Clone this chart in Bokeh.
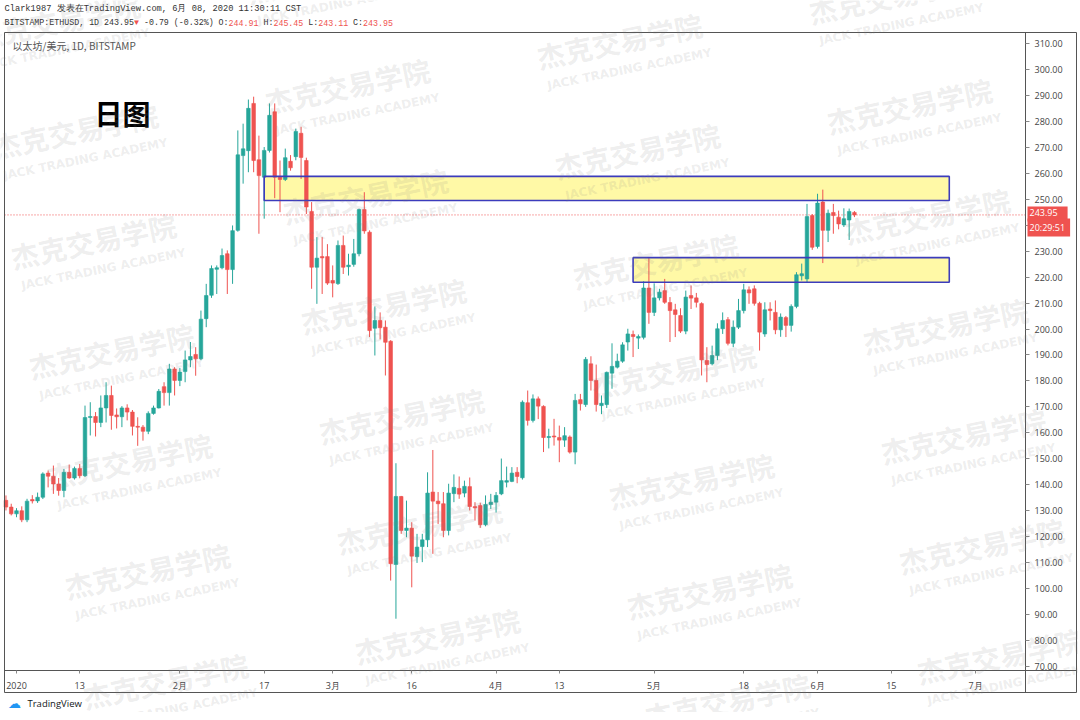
import math
import pandas as pd
from bokeh.plotting import figure
from bokeh.models import (Range1d, FixedTicker, NumeralTickFormatter, Label, ColumnDataSource,
                          LinearAxis)
from bokeh.embed import file_html
from bokeh.resources import INLINE

# ---------------- data ----------------
start_date = "2019-12-30"
opens = [134.0, 131.4,
         128.8, 130.0, 126.5, 134.3, 133.8, 135.2, 144.5, 143.3, 140.3, 137.8, 144.8, 142.6, 146.3, 143.5,
         165.9, 166.3, 164.0, 169.6, 174.4, 166.9, 166.2, 169.6, 168.0, 162.5, 162.2, 160.6, 167.5, 169.6,
         177.8, 175.5, 184.6,
         180.2, 183.6, 188.1, 190.2, 188.5, 204.0, 213.0, 223.0, 223.6, 229.0, 222.9, 238.0, 266.8, 268.7,
         286.9, 265.2, 258.5, 268.8, 283.7, 258.5, 257.6, 264.6, 266.4, 275.4, 264.9, 245.3, 223.8, 227.9,
         227.9,
         218.7, 217.5, 232.2, 224.0, 224.9, 229.0, 246.0, 237.3, 200.3, 203.3, 200.7, 195.3, 109.3, 135.5,
         122.4, 123.3, 112.3, 116.2, 118.8, 137.2, 133.7, 132.7, 122.4, 136.6, 138.6, 136.8, 139.3, 131.6,
         132.0, 124.6, 132.4,
         133.3, 136.5, 141.0, 141.3, 144.8, 142.7, 171.6, 164.8, 173.1, 170.2, 158.2, 158.8, 158.2, 157.2,
         158.4, 152.6, 172.8, 170.9, 186.6, 180.2, 170.5, 170.9, 183.0, 185.3, 187.6, 195.0, 197.9, 196.5,
         196.8, 215.8,
         206.4, 212.0, 214.8, 210.2, 207.4, 205.2, 199.2, 212.9, 212.0, 209.8, 187.9, 186.6, 189.8, 200.1,
         203.6, 194.5, 200.7, 207.1, 215.1, 215.5, 209.9, 198.1, 207.7, 206.4, 199.7, 204.4, 201.4, 208.7,
         220.5, 219.3, 243.7,
         231.8, 248.9, 238.0, 244.9, 243.1, 240.1, 242.0, 244.91]
highs = [135.9, 132.7,
         131.0, 131.7, 134.6, 136.0, 137.0, 144.8, 145.5, 147.4, 142.6, 146.1, 147.8, 147.0, 148.0, 170.5,
         171.8, 168.0, 174.4, 179.5, 178.2, 169.4, 170.3, 171.0, 168.8, 166.0, 163.0, 168.3, 170.5, 176.9,
         179.5, 186.6, 185.3,
         185.0, 191.7, 195.0, 193.0, 207.1, 217.4, 224.5, 224.5, 231.0, 230.3, 239.9, 276.5, 279.1, 288.4,
         289.5, 274.5, 270.1, 286.9, 286.9, 264.9, 269.5, 267.0, 277.2, 277.9, 266.0, 248.9, 235.4, 235.4,
         232.7,
         224.5, 234.1, 236.0, 229.0, 234.7, 246.4, 252.7, 238.0, 208.7, 206.4, 203.3, 195.7, 148.3, 135.7,
         133.9, 125.6, 121.1, 121.1, 144.8, 153.4, 137.2, 137.2, 140.4, 144.0, 143.2, 141.6, 142.8, 133.3,
         133.1, 135.9, 136.5,
         137.2, 150.1, 147.0, 146.8, 146.8, 172.5, 176.3, 174.8, 174.0, 170.6, 161.6, 165.4, 162.8, 162.2,
         159.0, 175.0, 175.0, 189.2, 189.5, 186.3, 174.4, 183.6, 194.5, 190.5, 194.9, 200.1, 199.4, 197.9,
         218.4, 227.7,
         217.6, 215.5, 219.3, 212.3, 209.7, 208.0, 214.8, 216.8, 213.9, 210.3, 193.0, 193.6, 202.2, 206.4,
         204.6, 203.3, 211.6, 217.4, 216.4, 216.8, 210.5, 210.3, 210.3, 211.0, 206.0, 205.0, 209.5, 221.9,
         225.2, 248.2, 244.3,
         252.1, 253.7, 246.0, 248.2, 245.6, 246.5, 246.4, 245.45]
lows = [130.1, 128.2,
        127.5, 125.6, 125.6, 132.8, 133.0, 134.5, 139.0, 136.5, 135.8, 135.2, 142.3, 142.0, 142.5, 143.0,
        159.0, 158.6, 162.2, 164.0, 161.2, 161.7, 162.2, 164.8, 159.0, 155.0, 157.0, 159.5, 167.0, 169.4,
        170.5, 170.5, 174.4,
        178.0, 179.5, 185.3, 182.0, 188.0, 200.7, 212.0, 213.5, 223.0, 213.5, 217.4, 237.5, 256.0, 260.4,
        260.4, 236.7, 242.5, 268.0, 250.4, 245.0, 257.0, 261.0, 265.0, 257.8, 244.3, 215.5, 209.7, 213.5,
        217.0,
        212.2, 217.0, 221.2, 220.6, 224.0, 228.0, 236.7, 196.9, 189.8, 196.0, 182.1, 103.1, 88.4, 121.1,
        119.8, 100.5, 109.9, 110.2, 116.0, 113.4, 124.9, 119.8, 120.5, 133.3, 134.6, 135.2, 130.1, 126.2,
        123.4, 124.0, 130.7,
        129.3, 136.0, 139.0, 141.0, 140.6, 142.0, 162.8, 164.0, 165.3, 152.6, 154.0, 155.1, 148.7, 154.6,
        152.0, 147.9, 168.6, 170.0, 176.3, 168.2, 167.2, 169.6, 177.0, 184.8, 187.0, 191.7, 189.2, 192.3,
        196.0, 202.0,
        205.0, 211.0, 209.7, 195.0, 196.9, 198.5, 198.0, 207.7, 208.3, 182.1, 179.5, 186.0, 188.0, 198.1,
        193.7, 193.0, 200.0, 206.0, 209.7, 209.0, 191.7, 197.0, 203.3, 198.0, 197.0, 196.9, 199.0, 208.0,
        218.7, 218.0, 230.5,
        231.0, 225.4, 233.5, 236.7, 238.4, 239.3, 234.3, 243.11]
closes = [131.4, 128.8,
          130.0, 126.5, 133.7, 133.8, 135.2, 144.2, 143.3, 140.3, 137.8, 144.8, 142.6, 146.3, 143.5, 165.9,
          166.3, 164.0, 169.6, 174.4, 166.7, 166.2, 169.6, 168.0, 162.5, 162.2, 160.6, 167.5, 169.6, 176.0,
          175.5, 184.6, 180.2,
          183.4, 188.1, 189.4, 188.5, 203.8, 212.9, 223.3, 223.6, 228.3, 222.9, 237.9, 267.1, 269.4, 285.0,
          264.9, 259.1, 268.8, 282.3, 258.5, 257.6, 266.0, 262.1, 276.1, 266.1, 247.0, 223.8, 227.3, 227.4,
          217.7,
          217.7, 232.2, 223.8, 224.6, 229.0, 246.0, 237.8, 199.4, 203.3, 200.5, 194.9, 109.6, 135.5, 122.4,
          123.3, 112.5, 116.0, 118.8, 136.8, 133.7, 132.7, 122.4, 136.8, 139.0, 136.4, 139.4, 131.6, 131.1,
          124.6, 132.4, 133.3,
          135.9, 141.6, 141.6, 144.5, 143.2, 171.8, 164.8, 173.1, 170.3, 158.2, 158.6, 158.4, 157.2, 158.9,
          152.6, 172.5, 171.2, 188.3, 180.2, 170.9, 171.4, 183.3, 185.6, 187.6, 193.9, 198.1, 197.1, 197.1,
          215.8, 206.4,
          212.0, 214.2, 210.3, 207.1, 205.6, 199.2, 212.3, 211.9, 210.3, 188.1, 186.3, 189.8, 200.1, 203.3,
          194.5, 200.7, 207.1, 215.1, 213.9, 209.9, 198.8, 207.4, 207.1, 199.7, 204.6, 201.4, 208.7, 220.9,
          221.3, 243.3, 231.5,
          248.5, 238.0, 244.6, 243.7, 240.5, 242.5, 245.3, 243.95]

box_start = ["2020-02-17", "2020-04-27"]
box_end = ["2020-06-26", "2020-06-26"]
box_low = [249.5, 218.0]
box_high = [258.8, 227.5]

tick_dates = ["2020-01-01", "2020-01-13", "2020-02-01", "2020-02-17", "2020-03-01", "2020-03-16",
              "2020-04-01", "2020-04-13", "2020-05-01", "2020-05-18", "2020-06-01", "2020-06-15", "2020-07-01"]
tick_labels = ["2020", "13", "2月", "17", "3月", "16", "4月", "13", "5月", "18", "6月", "15", "7月"]
price_ticks = list(range(70, 320, 10))

# ---------------- geometry (canvas pixels) ----------------
W, H = 1078, 712
PANE_L, PANE_T, PANE_R, PANE_B = 4, 32, 1025, 670     # price/time pane
OUT_R, OUT_B = 1076, 692                               # outer border of the chart widget
PX_PER_DAY = 5.27
PX_PER_USD = 2.596
JAN1_PX, P70_PX = 16, 666


def X(px):   # canvas x pixel -> day number
    return (px - JAN1_PX) / PX_PER_DAY


def V(py):   # canvas y pixel -> price
    return 70 + (P70_PX - py) / PX_PER_USD


UP, DOWN = "#26a69a", "#ef5350"
LINE = "#555555"
day0 = pd.Timestamp("2020-01-01")
dates = pd.date_range(start_date, periods=len(opens), freq="D")
xs = [(d - day0).days for d in dates]


def dx(s):
    return (pd.Timestamp(s) - day0).days


src = ColumnDataSource(dict(
    x=xs, h=highs, l=lows,
    top=[max(o, c) for o, c in zip(opens, closes)],
    bot=[min(o, c) for o, c in zip(opens, closes)],
    color=[UP if c >= o else DOWN for o, c in zip(opens, closes)],
))
box_src = ColumnDataSource(dict(left=[dx(s) for s in box_start], right=[dx(s) for s in box_end],
                                bottom=box_low, top=box_high))

p = figure(width=W, height=H, x_range=Range1d(X(0), X(W)), y_range=Range1d(V(H), V(0)),
           output_backend="svg", toolbar_location=None, x_axis_location=None, y_axis_location=None,
           min_border=0, min_border_left=0, min_border_right=0, min_border_top=0, min_border_bottom=0,
           background_fill_color="white", border_fill_color="white")
p.grid.visible = False
p.outline_line_color = None

# time axis (drawn at the pane bottom)
ax = LinearAxis(fixed_location=V(PANE_B), bounds=(X(PANE_L), X(OUT_R)))
ax.ticker = FixedTicker(ticks=[dx(s) for s in tick_dates])
ax.major_label_overrides = {dx(s): t for s, t in zip(tick_dates, tick_labels)}
ax.axis_line_color = LINE
ax.major_tick_line_color = "#888888"
ax.major_tick_out = 3
ax.major_tick_in = 0
ax.minor_tick_line_color = None
ax.major_label_text_font = "Open Sans"
ax.major_label_text_font_size = "9px"
ax.major_label_text_color = "#444444"
ax.major_label_standoff = 5
p.add_layout(ax, "below")

# price axis (drawn at the pane right edge)
ay = LinearAxis(fixed_location=X(PANE_R), bounds=(V(OUT_B), V(PANE_T)))
ay.ticker = FixedTicker(ticks=price_ticks)
ay.formatter = NumeralTickFormatter(format="0.00")
ay.axis_line_color = LINE
ay.major_tick_line_color = "#888888"
ay.major_tick_out = 4
ay.major_tick_in = 0
ay.minor_tick_line_color = None
ay.major_label_text_font = "Open Sans"
ay.major_label_text_font_size = "9px"
ay.major_label_text_color = "#444444"
ay.major_label_standoff = 5
p.add_layout(ay, "right")

# outer frame of the chart widget, drawn as bare axis lines
for loc, where, bnds in [(V(PANE_T), "above", (X(PANE_L), X(OUT_R))),
                         (V(OUT_B), "below", (X(PANE_L), X(OUT_R))),
                         (X(PANE_L), "left", (V(OUT_B), V(PANE_T))),
                         (X(OUT_R), "right", (V(OUT_B), V(PANE_T)))]:
    b = LinearAxis(fixed_location=loc, bounds=bnds, ticker=FixedTicker(ticks=[]))
    b.axis_line_color = LINE
    b.major_tick_line_color = None
    b.minor_tick_line_color = None
    b.major_label_text_font_size = "0px"
    p.add_layout(b, where)

# zones (fill below candles)
p.quad(left="left", right="right", bottom="bottom", top="top", source=box_src,
       fill_color="#fff9a6", line_color=None)

# last-price line across the pane
p.segment(x0=[X(PANE_L)], x1=[X(PANE_R)], y0=[closes[-1]], y1=[closes[-1]],
          line_color=DOWN, line_width=1, line_dash="1 2")

# candles
p.segment(x0="x", y0="l", x1="x", y1="h", line_color="color", line_width=1, source=src)
p.vbar(x="x", width=0.68, top="top", bottom="bot", fill_color="color", line_color="color",
       line_width=0.6, source=src)

# zone borders on top
p.quad(left="left", right="right", bottom="bottom", top="top", source=box_src,
       fill_color=None, line_color="#3c3cbc", line_width=1.6)


def lab(cx, cy, text, **kw):
    kw.setdefault("text_baseline", "middle")
    p.add_layout(Label(x=cx, y=H - cy, x_units="screen", y_units="screen", text=text, **kw))


# header
MONO = "Liberation Mono"
CW = 4.98
lab(4, 8, "Clark1987 发表在TradingView.com, 6月 08, 2020 11:30:11 CST", text_font=MONO,
    text_font_size="8.7px", text_color="#333333")
segs = [(0, "BITSTAMP:ETHUSD, 1D 243.95", "#333333"), (26, "▼", DOWN), (28, "-0.79 (-0.32%) O:", "#333333"),
        (45, "244.91", DOWN), (52, "H:", "#333333"), (54, "245.45", DOWN), (61, "L:", "#333333"),
        (63, "243.11", DOWN), (70, "C:", "#333333"), (72, "243.95", DOWN)]
for i, t, col in segs:
    lab(4 + i * CW, 22, t, text_font=MONO, text_font_size="8.3px", text_color=col)

lab(12, 45, "以太坊/美元, 1D, BITSTAMP", text_font="Noto Sans CJK SC", text_font_size="10px",
    text_color="#555555")
lab(122, 112, "日图", text_font="Noto Sans CJK SC", text_font_size="28px", text_font_style="bold",
    text_color="#000000", text_align="center")

# price tags on the axis
lab(1027, 213.5, "243.95", text_font="Open Sans", text_font_size="9px", text_color="white",
    background_fill_color=DOWN, padding=(2, 10, 2, 6))
lab(1027, 227, "20:29:51", text_font="Open Sans", text_font_size="9px", text_color="white",
    background_fill_color=DOWN, padding=(2, 5, 2, 3))

# TradingView footer
lab(14, 703, "☁", text_font="DejaVu Sans", text_font_size="13px", text_color="#2196f3", text_align="center")
lab(27, 703, "TradingView", text_font="Open Sans", text_font_size="9.5px", text_color="#131722")

# watermarks (on top of everything)
ang = 0.2
for c in range(0, 4):
    for r in range(-1, 7):
        cx = 75 + 272 * c + 18 * r
        cy = 130 - 45 * c + 110 * r
        if -60 < cx < 1140 and -30 < cy < 750:
            lab(cx, cy, "杰克交易学院", text_font="Noto Sans CJK SC", text_font_size="28px",
                text_font_style="bold", text_color="#808080", text_alpha=0.15, text_align="center", angle=ang)
            jx = cx + 30 * math.sin(ang) + 4 * math.cos(ang)
            jy = cy + 30 * math.cos(ang) - 4 * math.sin(ang)
            lab(jx, jy, "JACK TRADING ACADEMY", text_font="DejaVu Sans", text_font_size="12px",
                text_font_style="bold", text_color="#808080", text_alpha=0.15, text_align="center", angle=ang)

open("out.html", "w").write(file_html(p, INLINE))
